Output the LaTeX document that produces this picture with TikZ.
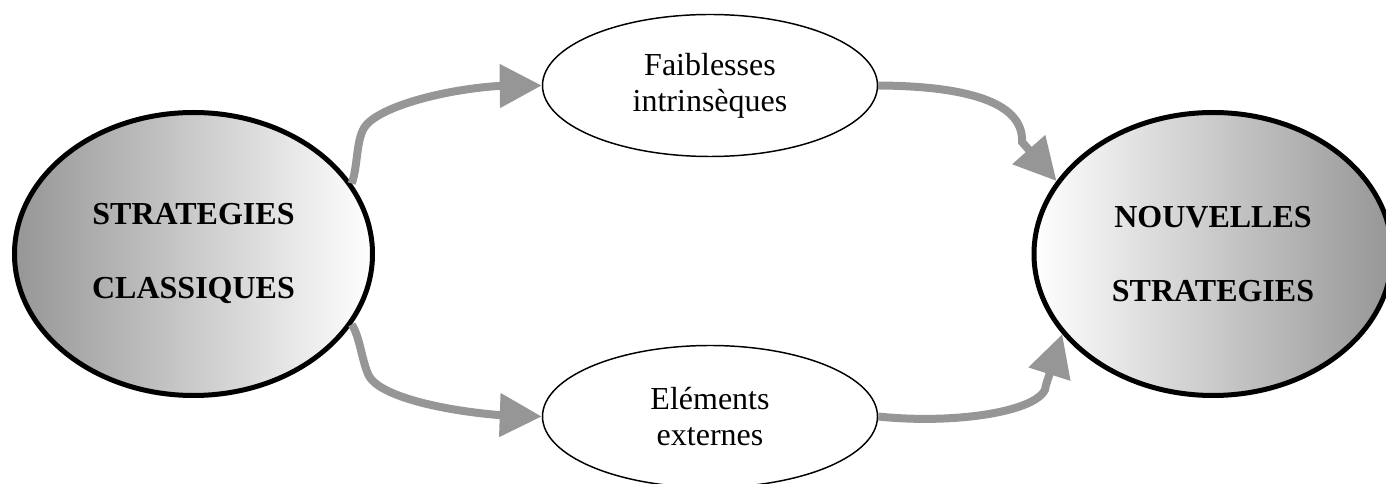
\documentclass[tikz,border=0pt]{standalone}
\usepackage{fontspec}
\setmainfont{Liberation Serif}
\usetikzlibrary{shapes.geometric,arrows.meta}
\definecolor{arrowgray}{RGB}{150,150,150}
\definecolor{shadegray}{RGB}{150,150,150}
\begin{document}
\begin{tikzpicture}[x=0.75pt,y=-0.75pt,
  bigoval/.style={ellipse,draw=black,line width=3.75pt,
    minimum width=268.5pt,minimum height=212.25pt,inner sep=0pt,
    align=center,font=\fontsize{24}{55.5}\selectfont\bfseries},
  smalloval/.style={ellipse,draw=black,line width=1.1pt,fill=white,
    minimum width=251.25pt,minimum height=106.5pt,inner sep=0pt,
    align=center,font=\fontsize{24}{27}\selectfont},
  flow/.style={draw=arrowgray,line width=6pt,
    -{Triangle[length=31.5pt,width=31.5pt]}}]
  \useasboundingbox (0,0) rectangle (1386,484);

  % main strategy ovals
  \node[bigoval,left color=shadegray,right color=white] (cl) at (193.5,254)
    {STRATEGIES\\CLASSIQUES};
  \node[bigoval,left color=white,right color=shadegray] (ns) at (1213,254)
    {NOUVELLES\\STRATEGIES};

  % intermediate factors
  \node[smalloval] (fi) at (710,85.5) {Faiblesses\\intrinsèques};
  \node[smalloval] (ee) at (710,416.5) {Eléments\\externes};

  % curved connectors
  \draw[flow] (cl.24) .. controls (358,165) and (356,142) .. (364,128)
    .. controls (376,108) and (440,90) .. (498,86) -- (fi.west);
  \draw[flow] (cl.-24) .. controls (360,337) and (362,362) .. (369,376)
    .. controls (380,396) and (440,410) .. (498,415) -- (ee.west);
  \draw[flow] (fi.east) .. controls (960,86) and (1024,100) .. (1022,142)
    -- (ns.155);
  \draw[flow] (ee.east) .. controls (960,425) and (1046,410) .. (1046,385)
    -- (ns.208);
\end{tikzpicture}
\end{document}
